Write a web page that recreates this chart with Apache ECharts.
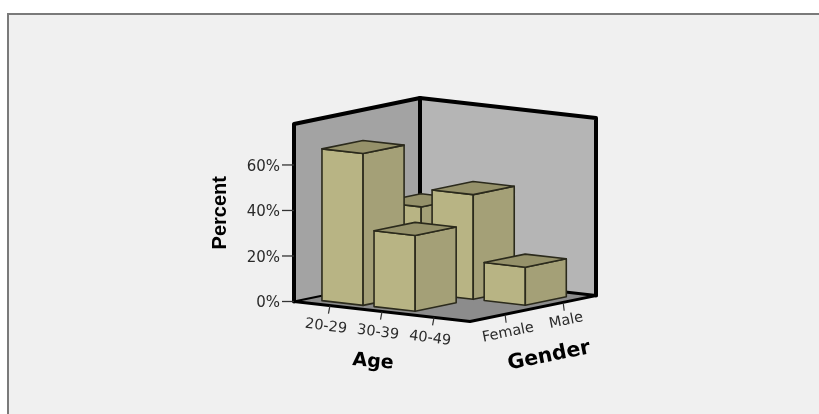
<!DOCTYPE html>
<html>
<head>
<meta charset="utf-8">
<style>
  html, body { margin: 0; padding: 0; background: #fff; }
  #chart { width: 819px; height: 414px; }
</style>
<script src="https://cdn.jsdelivr.net/npm/echarts@6/dist/echarts.min.js"></script>
</head>
<body>
<div id="chart"></div>
<script>
const ageCategories = ['20-29', '30-39', '40-49'];
const genderCategories = ['Female', 'Male'];
const percentFemale = [66.7, 33.3, null];
const percentMale = [38, 46, 16.7];
const percentTicks = [0, 20, 40, 60];

const ageRange = [-0.69, 2.69];
const genderRange = [-0.57, 1.6];
const percentMax = 78;

const font = 'Liberation Sans, Arial, sans-serif';
const tickFont = '14.5px DejaVu Sans';
const chart = echarts.init(document.getElementById('chart'));

// No 3D in core echarts: age and gender each get a hidden axis, and their
// pixel offsets are sheared onto the screen by these slopes
const ageSlope = 0.114;
const genderSlope = -0.206;

function project(age, gender, pct) {
  const origin = chart.convertToPixel({ xAxisIndex: 0 }, ageRange[0]);
  const a = chart.convertToPixel({ xAxisIndex: 0 }, age) - origin;
  const g = chart.convertToPixel({ xAxisIndex: 1 }, gender) - origin;
  const y = chart.convertToPixel({ yAxisIndex: 0 }, pct);
  return [origin + a + g, y + a * ageSlope + g * genderSlope];
}

function face(points, fill, stroke, lineWidth) {
  return {
    type: 'polygon',
    shape: { points: points },
    style: { fill: fill, stroke: stroke, lineWidth: lineWidth, lineJoin: 'round' }
  };
}

function line(points, lineWidth) {
  return {
    type: 'polyline',
    shape: { points: points },
    style: { fill: null, stroke: '#000', lineWidth: lineWidth, lineJoin: 'round', lineCap: 'round' }
  };
}

function label(text, at, rotation, fontStr) {
  return {
    type: 'text',
    x: at[0],
    y: at[1],
    rotation: rotation,
    style: { text: text, x: 0, y: 0, align: 'center', verticalAlign: 'middle', font: fontStr, fill: '#2a2a2a' }
  };
}

function renderRoom() {
  const a0 = ageRange[0], a1 = ageRange[1], g0 = genderRange[0], g1 = genderRange[1];
  const lf = project(a0, g0, 0), lt = project(a0, g0, percentMax);
  const bf = project(a0, g1, 0), bt = project(a0, g1, percentMax);
  const rf = project(a1, g1, 0), rt = project(a1, g1, percentMax);
  const ff = project(a1, g0, 0);
  return {
    type: 'group',
    children: [
      face([lf, lt, bt, bf], '#a3a3a3'),
      face([bf, bt, rt, rf], '#b5b5b5'),
      face([lf, bf, rf, ff], '#8c8c8c'),
      line([lf, bf], 2),
      line([bf, rf], 3),
      line([bf, bt], 4),
      line([lf, ff, rf], 3),
      line([lf, lt, bt, rt, rf], 4)
    ]
  };
}

function renderBar(params, api) {
  const age = api.value(0), gender = api.value(1), pct = api.value(2);
  const da = 0.395, dg = 0.353;
  const fl = project(age - da, gender - dg, 0), flt = project(age - da, gender - dg, pct);
  const fc = project(age + da, gender - dg, 0), fct = project(age + da, gender - dg, pct);
  const fr = project(age + da, gender + dg, 0), frt = project(age + da, gender + dg, pct);
  const bt = project(age - da, gender + dg, pct);
  return {
    type: 'group',
    children: [
      face([fl, flt, fct, fc], '#b8b484', '#2b2a1c', 1.6),
      face([fc, fct, frt, fr], '#a4a077', '#2b2a1c', 1.6),
      face([flt, bt, frt, fct], '#95916a', '#2b2a1c', 1.6)
    ]
  };
}

function renderPercentTick(params, api) {
  const v = api.value(1);
  const base = project(ageRange[0], genderRange[0], v);
  return {
    type: 'group',
    children: [
      { type: 'line', shape: { x1: base[0] - 12, y1: base[1], x2: base[0], y2: base[1] }, style: { stroke: '#333', lineWidth: 1.3 } },
      {
        type: 'text',
        x: base[0] - 14,
        y: base[1] + 2,
        style: { text: v + '%', x: 0, y: 0, align: 'right', verticalAlign: 'middle', font: '15px DejaVu Sans', fill: '#2a2a2a' }
      }
    ]
  };
}

function renderAgeTick(params, api) {
  const i = api.value(0);
  const base = project(i, genderRange[0], 0);
  return {
    type: 'group',
    children: [
      { type: 'line', shape: { x1: base[0], y1: base[1], x2: base[0] - 1.5, y2: base[1] + 8 }, style: { stroke: '#333', lineWidth: 1.2 } },
      label(ageCategories[i], [base[0] - 4, base[1] + 21], -0.13, tickFont)
    ]
  };
}

function renderGenderTick(params, api) {
  const i = api.value(0);
  const base = project(ageRange[1], i, 0);
  return {
    type: 'group',
    children: [
      { type: 'line', shape: { x1: base[0] + 2, y1: base[1], x2: base[0] + 3, y2: base[1] + 8 }, style: { stroke: '#333', lineWidth: 1.2 } },
      label(genderCategories[i], [base[0] + 5, base[1] + 18], 0.2, tickFont)
    ]
  };
}

// Back to front: male row first, younger bars first
const barData = [];
percentMale.forEach((v, i) => { if (v !== null) barData.push([i, 1, v]); });
percentFemale.forEach((v, i) => { if (v !== null) barData.push([i, 0, v]); });

chart.setOption({
  animation: false,
  backgroundColor: '#fff',
  graphic: [
    {
      type: 'rect',
      z: -10,
      shape: { x: 8, y: 14, width: 900, height: 500 },
      style: { fill: '#f0f0f0', stroke: '#7a7a7a', lineWidth: 2 }
    },
    {
      type: 'text', x: 373, y: 362, rotation: -0.09, z: 10,
      style: { text: 'Age', align: 'center', verticalAlign: 'middle', font: 'bold 19px DejaVu Sans', fill: '#000' }
    },
    {
      type: 'text', x: 549, y: 356, rotation: 0.2, z: 10,
      style: { text: 'Gender', align: 'center', verticalAlign: 'middle', font: 'bold 20.5px DejaVu Sans', fill: '#000' }
    }
  ],
  grid: [
    { left: 294, width: 176, top: 124, height: 177.5 },
    { left: 294, width: 126, top: 124, height: 177.5 }
  ],
  xAxis: [
    { gridIndex: 0, type: 'value', min: ageRange[0], max: ageRange[1], show: false },
    { gridIndex: 1, type: 'value', min: genderRange[0], max: genderRange[1], show: false }
  ],
  yAxis: [
    {
      gridIndex: 0,
      type: 'value',
      min: 0,
      max: percentMax,
      name: 'Percent',
      nameLocation: 'middle',
      nameGap: 64,
      nameTextStyle: { fontFamily: font, fontWeight: 'bold', fontSize: 20, color: '#000' },
      axisLine: { show: false },
      axisTick: { show: false },
      axisLabel: { show: false },
      splitLine: { show: false }
    },
    { gridIndex: 1, type: 'value', min: 0, max: percentMax, show: false }
  ],
  series: [
    { type: 'custom', name: 'room', data: [[0, 0]], clip: false, silent: true, z: 1, renderItem: renderRoom },
    { type: 'custom', name: 'bars', data: barData, encode: { x: 0, y: 2 }, clip: false, z: 2, renderItem: renderBar },
    { type: 'custom', name: 'percent ticks', data: percentTicks.map(v => [0, v]), clip: false, silent: true, z: 3, renderItem: renderPercentTick },
    { type: 'custom', name: 'age axis', data: ageCategories.map((c, i) => [i, 0]), clip: false, silent: true, z: 3, renderItem: renderAgeTick },
    { type: 'custom', name: 'gender axis', xAxisIndex: 1, yAxisIndex: 1, data: genderCategories.map((c, i) => [i, 0]), clip: false, silent: true, z: 3, renderItem: renderGenderTick }
  ]
});
</script>
</body>
</html>
